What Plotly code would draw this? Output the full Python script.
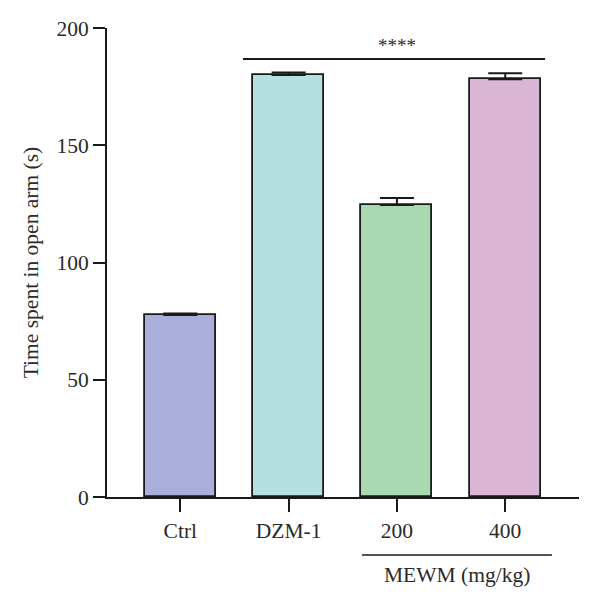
import plotly.graph_objects as go

categories = ["Ctrl", "DZM-1", "200", "400"]
means = [77.6, 180.0, 124.5, 178.1]
errors = [0.7, 1.0, 3.0, 2.6]
colors = ["#aaaedb", "#b5e0e0", "#a9d8b1", "#dbb5d6"]
y_ticks = [0, 50, 100, 150, 200]
sig_label = "****"
group_label = "MEWM (mg/kg)"
y_title = "Time spent in open arm (s)"

FONT = "Liberation Serif"
TXT = "#2a2a2a"
FS = 21.5

x_pos = list(range(len(categories)))

fig = go.Figure()
fig.add_trace(go.Bar(
    x=x_pos, y=means, width=0.656,
    marker=dict(color=colors, line=dict(color="#1a1a1a", width=1.8)),
    error_y=dict(type="data", array=errors, arrayminus=[0]*len(errors), symmetric=False,
                 color="#1a1a1a", thickness=2, width=17),
    showlegend=False,
))

# significance line over DZM-1 .. 400
fig.add_shape(type="line", xref="x", yref="y", x0=0.579, x1=3.368, y0=186.8, y1=186.8,
              line=dict(color="#1a1a1a", width=2))
fig.add_annotation(x=2, y=187.4, xref="x", yref="y", text=sig_label, showarrow=False,
                   yanchor="bottom", font=dict(family=FONT, size=19, color=TXT))

# MEWM group line + label
fig.add_shape(type="line", xref="x", yref="paper", x0=1.678, x1=3.431, y0=-0.1237, y1=-0.1237,
              line=dict(color="#1a1a1a", width=1.3))
fig.add_annotation(x=2.553, y=-0.166, xref="x", yref="paper", text=group_label, showarrow=False,
                   yanchor="middle", font=dict(family=FONT, size=FS, color=TXT))

fig.update_layout(
    width=600, height=608,
    margin=dict(l=107, r=21, t=28, b=111),
    plot_bgcolor="white", paper_bgcolor="white",
    font=dict(family=FONT, size=FS, color=TXT),
    bargap=0,
)
fig.update_xaxes(
    range=[-0.677, 3.681], tickvals=x_pos, ticktext=categories,
    showline=True, linecolor="#1a1a1a", linewidth=2,
    ticks="outside", ticklen=13, tickwidth=2, tickcolor="#1a1a1a",
    showgrid=False, zeroline=False, tickfont=dict(family=FONT, size=FS, color=TXT),
)
fig.update_yaxes(
    range=[0, 200], tickvals=y_ticks,
    showline=True, linecolor="#1a1a1a", linewidth=2,
    ticks="outside", ticklen=12, tickwidth=2, tickcolor="#1a1a1a",
    showgrid=False, zeroline=False, tickfont=dict(family=FONT, size=FS, color=TXT),
    title=dict(text=y_title, font=dict(family=FONT, size=FS, color=TXT), standoff=12),
)

fig.write_html("out.html")
